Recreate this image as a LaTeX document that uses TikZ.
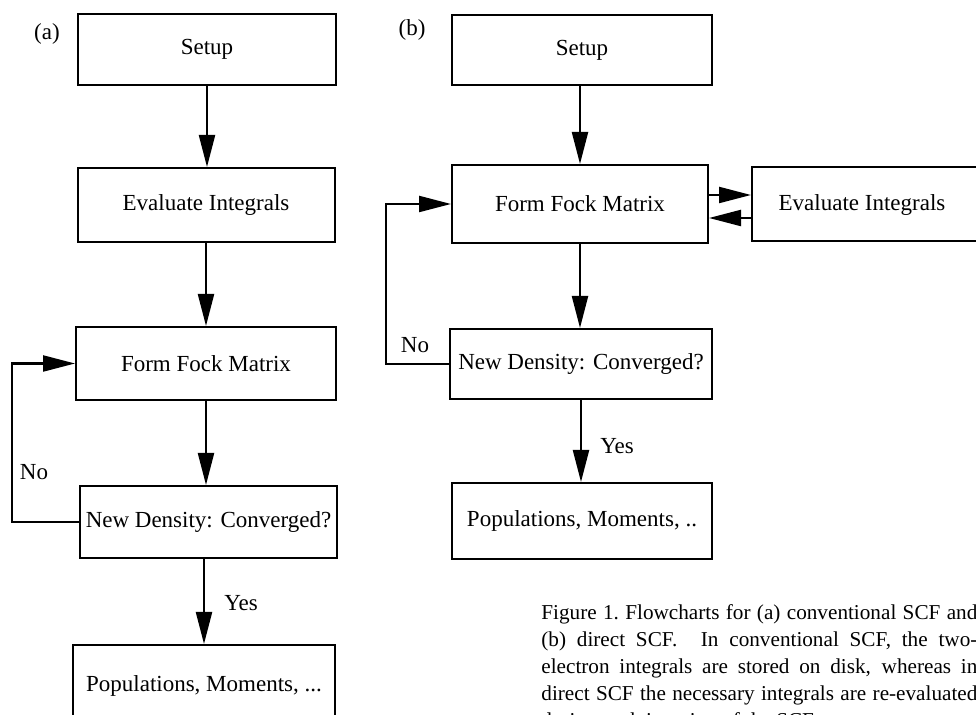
\documentclass[tikz,border=0pt]{standalone}
\usepackage{fontspec}
\setmainfont{Liberation Serif}
\usetikzlibrary{arrows.meta}
\begin{document}
\begin{tikzpicture}[x=0.5pt,y=-0.5pt,
  flowbox/.style={draw, line width=1pt, inner sep=0pt, fill=white,
    font=\fontsize{11.5}{14}\selectfont},
  boxtext/.style={inner sep=0pt, font=\fontsize{11.5}{14}\selectfont},
  flow/.style={line width=1.1pt, -{Triangle[length=16pt,width=8pt]}},
  tag/.style={inner sep=0pt, font=\fontsize{11.5}{14}\selectfont},
  captext/.style={anchor=base west, inner sep=0pt, text width=218pt, align=justify,
    font=\fontsize{10.6}{13.5}\selectfont}]

% page frame
\useasboundingbox (0,0) rectangle (976,715);
\clip (0,0) rectangle (976,715);
\fill[white] (0,0) rectangle (976,715);

% ---- (a) conventional SCF ----
\node[tag] (labA) at (47,34) {(a)};
\node[flowbox, minimum width=129pt,   minimum height=35.5pt] (setupA) at (207,49.5) {Setup};
\node[flowbox, minimum width=128.5pt, minimum height=37pt]   (evalA)  at (206,205) {Evaluate Integrals};
\node[flowbox, minimum width=130pt,   minimum height=36.5pt] (fockA)  at (206,363.5) {Form Fock Matrix};
\node[flowbox, minimum width=128.5pt, minimum height=36pt]   (newA)   at (208.5,522) {New Density: Converged?};
\node[flowbox, minimum width=131pt,   minimum height=41pt]   (popA)   at (204,686) {Populations, Moments, ...};

\draw[flow] (setupA.south) -- (setupA.south |- evalA.north);
\draw[flow] (evalA.south) -- (evalA.south |- fockA.north);
\draw[flow] (fockA.south) -- (fockA.south |- newA.north);
\draw[flow] (popA.north |- newA.south) -- (popA.north);
\draw[flow] (newA.west) -- ++(-67,0) |- (fockA.west);

\node[tag] (noA)  at (34,472)  {No};
\node[tag] (yesA) at (241,603) {Yes};

% ---- (b) direct SCF ----
\node[tag] (labB) at (412,30) {(b)};
\node[flowbox, minimum width=130pt, minimum height=35pt] (setupB) at (582,50)  {Setup};
\node[flowbox, minimum width=128pt, minimum height=39pt] (fockB)  at (580,204) {Form Fock Matrix};
\node[flowbox, minimum width=124pt, minimum height=37pt] (evalB)  at (876,204) {};
\node[boxtext] (evalBtext) at (862,205) {Evaluate Integrals};
\node[flowbox, minimum width=131pt, minimum height=35pt] (newB)   at (581,364) {New Density: Converged?};
\node[flowbox, minimum width=130pt, minimum height=38pt] (popB)   at (582,521) {Populations, Moments, ..};

\draw[flow] (fockB.north |- setupB.south) -- (fockB.north);
\draw[flow] ([yshift=4.5pt]fockB.east) -- ([yshift=4.5pt]fockB.east -| evalB.west);
\draw[flow] ([yshift=-7pt]evalB.west) -- ([yshift=-7pt]evalB.west -| fockB.east);
\draw[flow] (fockB.south) -- (fockB.south |- newB.north);
\draw[flow] (newB.south) -- (newB.south |- popB.north);
\draw[flow] (newB.west) -- ++(-63,0) |- (fockB.west);

\node[tag] (noB)  at (415,345) {No};
\node[tag] (yesB) at (617,446) {Yes};

% ---- caption (justified, fixed line breaks) ----
\node[captext] (cap) at (541,620) {\tolerance=10000\relax\hyphenpenalty=10000\relax
Figure 1.\ Flowcharts for (a) conventional SCF and\linebreak
(b) direct SCF\@.  In conventional SCF, the two-\linebreak
electron integrals are stored on disk, whereas in\linebreak
direct SCF the necessary integrals are re-evaluated\linebreak
during each iteration of the SCF\@.};
\end{tikzpicture}
\end{document}
